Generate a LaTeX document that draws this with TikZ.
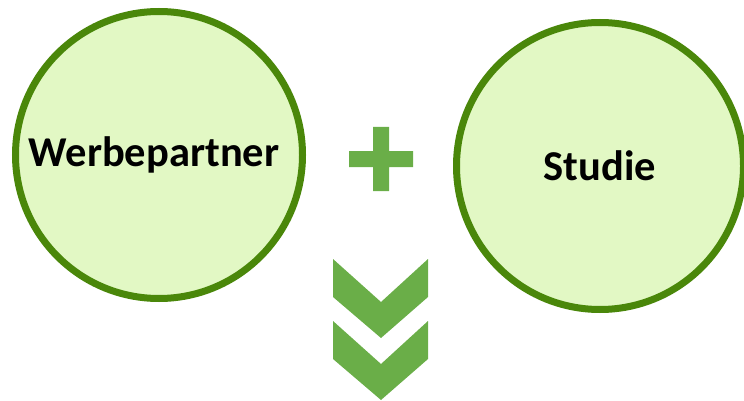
\documentclass[tikz,border=0pt]{standalone}
\usepackage{fontspec}
\setmainfont{Carlito}
\usepackage{tikz}
\usetikzlibrary{shapes, calc, positioning}

\definecolor{kreisrand}{RGB}{74,135,10}
\definecolor{kreisfuell}{RGB}{226,248,196}
\definecolor{pfeilgruen}{RGB}{106,174,72}

\begin{document}
\begin{tikzpicture}[x=1pt, y=-1pt]
	\tikzstyle{kreis} = [draw=kreisrand, fill=kreisfuell, line width=7pt, circle, minimum size=287pt, inner sep=0pt, font=\fontsize{42.5}{50}\selectfont\bfseries]
	\tikzstyle{zeichen} = [fill=pfeilgruen]

	\useasboundingbox (0,0) rectangle (744,401);

	\node[kreis] (partner) at (159,155) {Werbepartner\hspace*{10pt}};
	\node[kreis] (studie) at (600,166) {Studie};

	% plus
	\fill[zeichen] (373,127) -- (389,127) -- (389,151) -- (413,151) -- (413,167) -- (389,167)
		-- (389,191) -- (373,191) -- (373,167) -- (349,167) -- (349,151) -- (373,151) -- cycle;

	% chevrons
	\foreach \dy in {0,62}
		\fill[zeichen, yshift=-\dy pt] (333,259) -- (381,302) -- (428,259) -- (428,297)
			-- (381,338) -- (333,297) -- cycle;
\end{tikzpicture}
\end{document}
